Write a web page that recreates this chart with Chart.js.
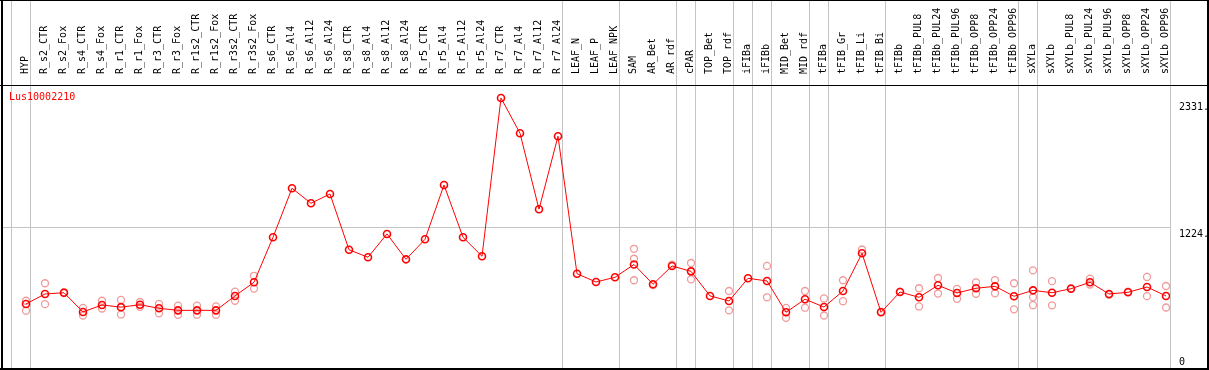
<!DOCTYPE html>
<html>
<head>
<meta charset="utf-8">
<script src="https://cdn.jsdelivr.net/npm/chart.js@4.4.1/dist/chart.umd.min.js"></script>
<style>
  html, body { margin: 0; padding: 0; background: #fff; }
  canvas { display: block; }
</style>
</head>
<body>
<canvas id="chart" width="1209" height="370"></canvas>
<script>
const geneName = "Lus10002210";

const categories = [
  "HYP", "R_s2_CTR", "R_s2_Fox", "R_s4_CTR", "R_s4_Fox", "R_r1_CTR", "R_r1_Fox", "R_r3_CTR", "R_r3_Fox",
  "R_r1s2_CTR", "R_r1s2_Fox", "R_r3s2_CTR", "R_r3s2_Fox", "R_s6_CTR", "R_s6_Al4", "R_s6_Al12", "R_s6_Al24",
  "R_s8_CTR", "R_s8_Al4", "R_s8_Al12", "R_s8_Al24", "R_r5_CTR", "R_r5_Al4", "R_r5_Al12", "R_r5_Al24",
  "R_r7_CTR", "R_r7_Al4", "R_r7_Al12", "R_r7_Al24", "LEAF_N", "LEAF_P", "LEAF_NPK", "SAM", "AR_Bet", "AR_rdf",
  "cPAR", "TOP_Bet", "TOP_rdf", "iFIBa", "iFIBb", "MID_Bet", "MID_rdf", "tFIBa", "tFIB_Gr", "tFIB_Li", "tFIB_Bi",
  "tFIBb", "tFIBb_PUL8", "tFIBb_PUL24", "tFIBb_PUL96", "tFIBb_OPP8", "tFIBb_OPP24", "tFIBb_OPP96",
  "sXYLa", "sXYLb", "sXYLb_PUL8", "sXYLb_PUL24", "sXYLb_PUL96", "sXYLb_OPP8", "sXYLb_OPP24", "sXYLb_OPP96"
];

// mean expression per sample
const meanValues = [
  560, 647, 658, 490, 551, 532, 553, 522, 504, 504, 504, 630, 749,
  1143, 1571, 1440, 1521, 1034, 968, 1172, 950, 1125, 1600, 1143, 977, 2361, 2052, 1388, 2026,
  824, 752, 793, 905, 732, 892, 845, 630, 586, 784, 761, 487, 601, 533, 673, 1003, 487,
  664, 618, 723, 656, 697, 714, 627, 679, 658, 693, 749, 647, 662, 708, 630
];

// individual replicates (null = not shown)
const repA = [
  588, 741, 662, 526, 588, 595, 577, 561, 545, 545, 539, 668, 806,
  null, null, null, null, null, null, null, null, null, null, null, null, null, null, null, null,
  null, null, null, 1042, 725, 904, 918, null, 673, null, 892, 526, 673, 608, 767, 1036, 492,
  668, 697, 787, 692, 748, 769, 741, 854, 759, 697, 781, 640, 668, 796, 717
];
const repB = [
  501, 558, 654, 459, 520, 468, 535, 478, 465, 466, 466, 588, 694,
  null, null, null, null, null, null, null, null, null, null, null, null, null, null, null, null,
  null, null, null, 955, null, null, 775, null, 504, null, 618, 439, 527, 459, 584, null, null,
  null, 538, 651, 605, 649, 653, 513, 618, 548, null, 730, null, null, 628, 529
];
const repC = [
  null, null, null, null, null, null, null, null, null, null, null, null, null,
  null, null, null, null, null, null, null, null, null, null, null, null, null, null, null, null,
  null, null, null, 767, null, null, null, null, null, null, null, null, null, null, null, null, null,
  null, null, null, null, null, null, null, 549, null, null, null, null, null, null, null
];

const yTicks = [0, 1224, 2331];
// last sample index of each group (-1 = left edge)
const groupBreaks = [-1, 0, 28, 31, 34, 35, 37, 38, 39, 41, 42, 45, 52, 53, 60];

const monoFont = { family: "DejaVu Sans Mono", size: 10 };

const toPoints = arr => arr.map((v, i) => ({ x: i, y: v }));

const repDataset = arr => ({
  type: "line",
  data: toPoints(arr),
  showLine: false,
  pointStyle: "circle",
  pointRadius: 3.5,
  pointBorderWidth: 1.3,
  pointBorderColor: "#f09a9a",
  pointBackgroundColor: "rgba(0,0,0,0)",
  order: 1
});

const framePlugin = {
  id: "frame",
  beforeDatasetsDraw(chart) {
    const { ctx, chartArea, scales } = chart;
    ctx.save();
    ctx.strokeStyle = "#c4c4c4";
    ctx.lineWidth = 1;
    groupBreaks.forEach(k => {
      const px = Math.round(scales.x.getPixelForValue(k + 0.21)) + 0.5;
      ctx.beginPath();
      ctx.moveTo(px, 0);
      ctx.lineTo(px, chartArea.bottom);
      ctx.stroke();
    });
    ctx.restore();
  },
  afterDraw(chart) {
    const { ctx, width, height, chartArea } = chart;
    ctx.save();
    ctx.fillStyle = "#000";
    ctx.fillRect(1, 0, 2, height);
    ctx.fillRect(0, 0, width, 1);
    ctx.fillRect(width - 2, 0, 2, height);
    ctx.fillRect(0, chartArea.bottom, width, 2);
    ctx.fillRect(0, chartArea.top, width, 1);
    ctx.fillStyle = "#ff0000";
    ctx.font = "10px 'DejaVu Sans Mono'";
    ctx.textBaseline = "top";
    ctx.fillText(geneName, 9, chartArea.top + 7);
    ctx.restore();
  }
};

new Chart(document.getElementById("chart"), {
  type: "line",
  data: {
    datasets: [
      {
        data: toPoints(meanValues),
        borderColor: "#ff0000",
        borderWidth: 1,
        tension: 0,
        pointStyle: "circle",
        pointRadius: 3.5,
        pointBorderWidth: 1.6,
        pointBorderColor: "#ff0000",
        pointBackgroundColor: "rgba(0,0,0,0)",
        order: 0
      },
      repDataset(repA),
      repDataset(repB),
      repDataset(repC)
    ]
  },
  options: {
    responsive: false,
    animation: false,
    layout: { autoPadding: false, padding: { left: 2, right: 2, top: 0, bottom: 2 } },
    plugins: { legend: { display: false }, tooltip: { enabled: false } },
    scales: {
      x: {
        type: "linear",
        position: "top",
        min: -1.263,
        max: 60.21,
        afterBuildTicks: s => { s.ticks = categories.map((_, i) => ({ value: i })); },
        afterFit: s => { s.height = 85; s.paddingLeft = 0; s.paddingRight = 0; },
        grid: { display: false },
        border: { display: false },
        ticks: {
          autoSkip: false,
          minRotation: 90,
          maxRotation: 90,
          padding: 3,
          labelOffset: 11,
          color: "#000",
          font: monoFont,
          callback: v => categories[v]
        }
      },
      y: {
        position: "right",
        min: 0,
        max: 2474,
        afterBuildTicks: s => { s.ticks = yTicks.map(v => ({ value: v })); },
        afterFit: s => { s.width = 37; s.paddingTop = 0; s.paddingBottom = 0; },
        grid: {
          drawTicks: false,
          color: c => (c.tick && c.tick.value === 1224 ? "#c4c4c4" : "rgba(0,0,0,0)")
        },
        border: { display: false },
        ticks: {
          autoSkip: false,
          padding: 9,
          color: "#000",
          font: monoFont,
          callback: v => (v === 0 ? ["0", ""] : ["", v + "."])
        }
      }
    }
  },
  plugins: [framePlugin]
});
</script>
</body>
</html>
